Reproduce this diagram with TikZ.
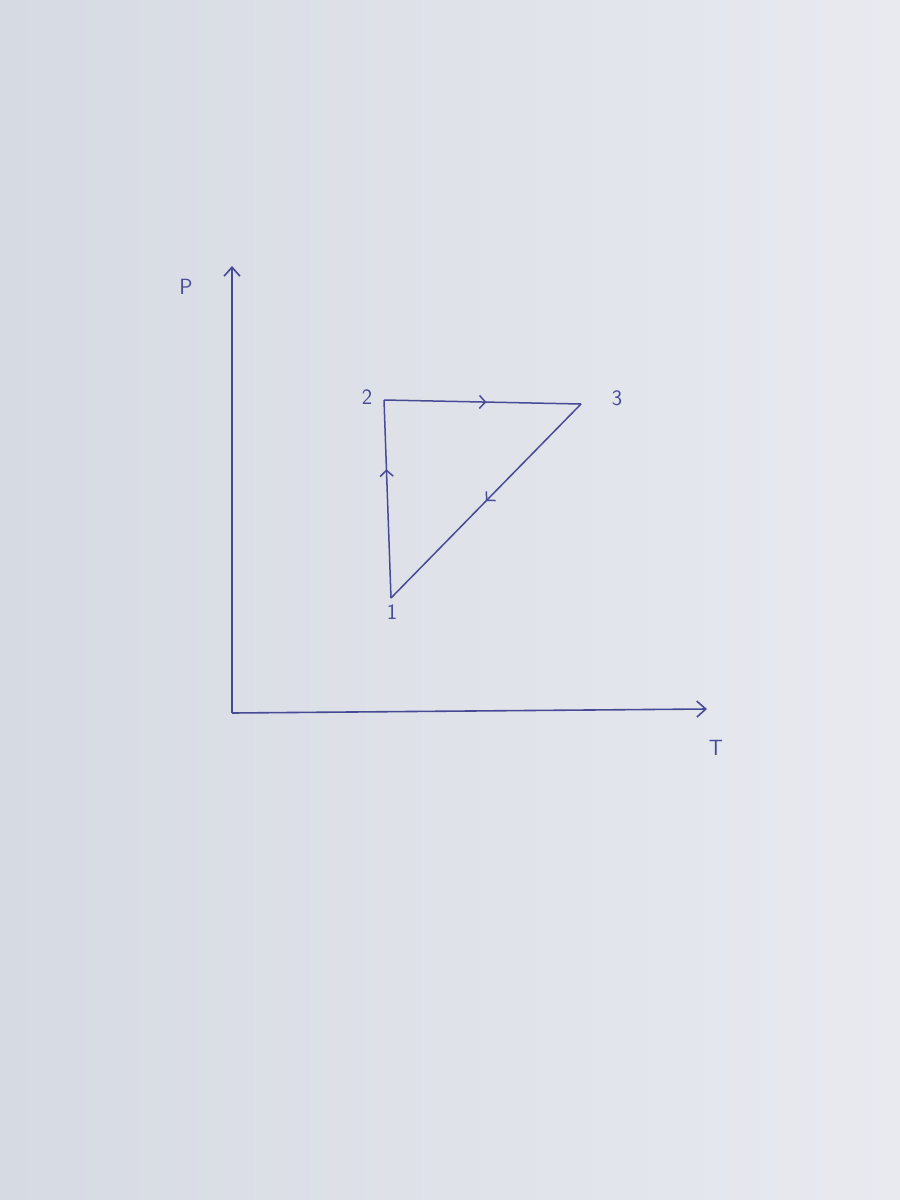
\documentclass[tikz,border=0pt]{standalone}
\usetikzlibrary{arrows.meta,decorations.markings}
\definecolor{paper}{RGB}{214,218,226}
\definecolor{paperlight}{RGB}{232,234,240}
\definecolor{ink}{RGB}{72,74,150}
\tikzset{
  axis/.style={ink, line width=1.6pt, -{Straight Barb[length=9pt,width=16pt]}},
  edge/.style={ink, line width=1.5pt, postaction={decorate},
    decoration={markings, mark=at position #1 with {\arrow{Straight Barb[length=6pt,width=13pt]}}}},
  edge/.default=0.5,
  lbl/.style={ink, font=\sffamily\fontsize{22}{24}\selectfont, inner sep=0pt}
}
\begin{document}
\begin{tikzpicture}[x=1pt,y=-1pt]
\shade[left color=paper, right color=paperlight] (0,0) rectangle (900,1200);
\useasboundingbox (0,0) rectangle (900,1200);
% axes
\coordinate (O) at (232,713);
\coordinate (Ptop) at (232,266);
\coordinate (Tend) at (707,709);
\draw[axis] (O) -- (Ptop);
\draw[axis] (O) -- (Tend);
\node[lbl] (P) at (186,287) {P};
\node[lbl] (T) at (716,748) {T};
% cycle states
\coordinate (s1) at (391,598);
\coordinate (s2) at (384,400);
\coordinate (s3) at (581,404);
\draw[edge=0.65] (s1) -- (s2);
\draw[edge=0.52] (s2) -- (s3);
\draw[edge=0.5] (s3) -- (s1);
\node[lbl] (l1) at (392,612) {1};
\node[lbl] (l2) at (367,397) {2};
\node[lbl] (l3) at (617,398) {3};
\end{tikzpicture}
\end{document}
